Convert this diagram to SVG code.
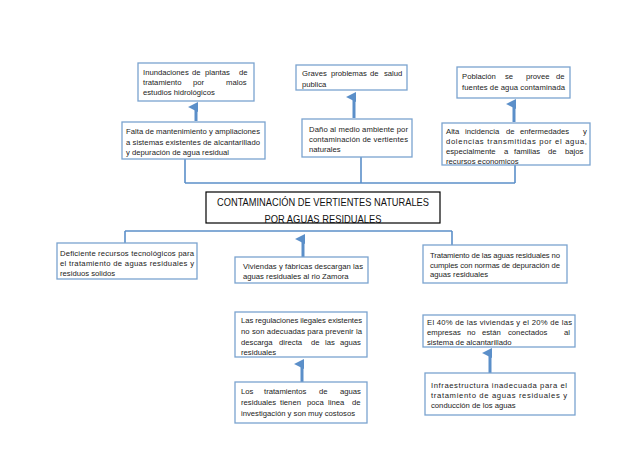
<svg xmlns="http://www.w3.org/2000/svg" width="638" height="452" viewBox="0 0 638 452">
<defs>
<style>
.box{fill:#fff;stroke:#7aa3cf;stroke-width:1.3}
.main{fill:#fff;stroke:#000;stroke-width:1.2}
.t{font-family:"Liberation Sans",Arial,sans-serif;font-size:7.7px;fill:#222}
.m{font-family:"Liberation Sans",Arial,sans-serif;font-size:10.8px;fill:#111}
.ln{stroke:#5b8fc9;stroke-width:1.6;fill:none}
.ar{stroke:#5b8fc9;stroke-width:3;fill:none}
</style>
<marker id="ah" viewBox="0 0 10 10" refX="5" refY="8" markerWidth="3.3" markerHeight="3.3" orient="auto-start-reverse" markerUnits="strokeWidth">
<path d="M0,10 L5,0 L10,10 Z" fill="#5b8fc9"/>
</marker>
</defs>
<rect width="638" height="452" fill="#fff"/>

<g id="connectors">
<line class="ln" x1="185" y1="183" x2="515" y2="183"/>
<line class="ln" x1="185" y1="159" x2="185" y2="183"/>
<line class="ln" x1="361" y1="157" x2="361" y2="183"/>
<line class="ln" x1="515" y1="165" x2="515" y2="183"/>
<line class="ln" x1="125" y1="231" x2="452" y2="231"/>
<line class="ln" x1="125" y1="231" x2="125" y2="243"/>
<line class="ln" x1="452" y1="231" x2="452" y2="245"/>
<line class="ar" x1="196" y1="121" x2="196" y2="107" marker-end="url(#ah)"/>
<line class="ar" x1="354" y1="118" x2="354" y2="97" marker-end="url(#ah)"/>
<line class="ar" x1="514" y1="122" x2="514" y2="104" marker-end="url(#ah)"/>
<line class="ar" x1="303" y1="257" x2="303" y2="239" marker-end="url(#ah)"/>
<line class="ar" x1="302" y1="382" x2="302" y2="364" marker-end="url(#ah)"/>
<line class="ar" x1="490" y1="373" x2="490" y2="353" marker-end="url(#ah)"/>
</g>

<g id="n1">
<rect class="box" x="138" y="63" width="116" height="38"/>
<text class="t" y="75"><tspan x="143">Inundaciones</tspan><tspan x="192">de</tspan><tspan x="205">plantas</tspan><tspan x="239">de</tspan></text>
<text class="t" y="85"><tspan x="143">tratamiento</tspan><tspan x="193">por</tspan><tspan x="226">malos</tspan></text>
<text class="t" x="143" y="95">estudios hidrológicos</text>
</g>
<g id="n2">
<rect class="box" x="296" y="65" width="111" height="25"/>
<text class="t" y="76"><tspan x="302">Graves</tspan><tspan x="331">problemas</tspan><tspan x="370">de</tspan><tspan x="384">salud</tspan></text>
<text class="t" x="302" y="87">publica</text>
</g>
<g id="n3">
<rect class="box" x="457" y="67" width="113" height="31"/>
<text class="t" y="79"><tspan x="462">Población</tspan><tspan x="505">se</tspan><tspan x="526">provee</tspan><tspan x="556">de</tspan></text>
<text class="t" x="462" y="90" textLength="103" lengthAdjust="spacing">fuentes de agua contaminada</text>
</g>
<g id="n4">
<rect class="box" x="122" y="122" width="143" height="37"/>
<text class="t" x="126" y="134" textLength="134" lengthAdjust="spacing">Falta de mantenimiento y ampliaciones</text>
<text class="t" x="126" y="145" textLength="134" lengthAdjust="spacing">a sistemas existentes de alcantarillado</text>
<text class="t" x="126" y="155">y depuración de agua residual</text>
</g>
<g id="n5">
<rect class="box" x="302" y="119" width="110" height="38"/>
<text class="t" x="309" y="132" textLength="99" lengthAdjust="spacing">Daño al medio ambiente por</text>
<text class="t" x="309" y="142" textLength="99" lengthAdjust="spacing">contaminación de vertientes</text>
<text class="t" x="309" y="152">naturales</text>
</g>
<g id="n6">
<rect class="box" x="442" y="123" width="148" height="42"/>
<text class="t" y="134"><tspan x="446">Alta</tspan><tspan x="465">incidencia</tspan><tspan x="506">de</tspan><tspan x="520">enfermedades</tspan><tspan x="583">y</tspan></text>
<text class="t" x="446" y="144" textLength="141" lengthAdjust="spacing">dolencias transmitidas por el agua,</text>
<text class="t" y="154"><tspan x="446">especialmente</tspan><tspan x="504">a</tspan><tspan x="514">familias</tspan><tspan x="548">de</tspan><tspan x="565">bajos</tspan></text>
<text class="t" x="446" y="164">recursos economicos</text>
</g>
<g id="center">
<rect class="main" x="206" y="192" width="234" height="31"/>
<text class="m" x="323" y="206" text-anchor="middle" textLength="212" lengthAdjust="spacingAndGlyphs">CONTAMINACIÓN DE VERTIENTES NATURALES</text>
<text class="m" x="323" y="223" text-anchor="middle" textLength="117" lengthAdjust="spacingAndGlyphs">POR AGUAS RESIDUALES</text>
</g>
<g id="n8">
<rect class="box" x="57" y="243" width="140" height="36"/>
<text class="t" x="60" y="256" textLength="134" lengthAdjust="spacing">Deficiente recursos tecnológicos para</text>
<text class="t" x="60" y="266" textLength="134" lengthAdjust="spacing">el tratamiento de aguas residuales y</text>
<text class="t" x="60" y="276">residuos solidos</text>
</g>
<g id="n9">
<rect class="box" x="235" y="257" width="133" height="26"/>
<text class="t" x="243" y="269" textLength="120" lengthAdjust="spacing">Viviendas y fábricas descargan las</text>
<text class="t" x="243" y="279">aguas residuales al rio Zamora</text>
</g>
<g id="n10">
<rect class="box" x="423" y="245" width="144" height="38"/>
<text class="t" x="430" y="258" textLength="130" lengthAdjust="spacing">Tratamiento de las aguas residuales no</text>
<text class="t" x="430" y="268" textLength="130" lengthAdjust="spacing">cumples con normas de depuración de</text>
<text class="t" x="430" y="277">aguas residuales</text>
</g>
<g id="n11">
<rect class="box" x="235" y="312" width="132" height="45"/>
<text class="t" x="241" y="323" textLength="121" lengthAdjust="spacing">Las regulaciones ilegales existentes</text>
<text class="t" x="241" y="334" textLength="121" lengthAdjust="spacing">no son adecuadas para prevenir la</text>
<text class="t" y="345"><tspan x="241">descarga</tspan><tspan x="279">directa</tspan><tspan x="311">de</tspan><tspan x="325">las</tspan><tspan x="340">aguas</tspan></text>
<text class="t" x="241" y="355">residuales</text>
</g>
<g id="n12">
<rect class="box" x="235" y="382" width="132" height="41"/>
<text class="t" y="394"><tspan x="241">Los</tspan><tspan x="264">tratamientos</tspan><tspan x="319">de</tspan><tspan x="340">aguas</tspan></text>
<text class="t" y="405"><tspan x="241">residuales</tspan><tspan x="280">tienen</tspan><tspan x="307">poca</tspan><tspan x="328">linea</tspan><tspan x="352">de</tspan></text>
<text class="t" x="241" y="416">investigación y son muy costosos</text>
</g>
<g id="n13">
<rect class="box" x="423" y="315" width="152" height="32"/>
<text class="t" x="427" y="325" textLength="145" lengthAdjust="spacing">El 40% de las viviendas y el 20% de las</text>
<text class="t" y="335"><tspan x="427">empresas</tspan><tspan x="467">no</tspan><tspan x="482">están</tspan><tspan x="508">conectados</tspan><tspan x="564">al</tspan></text>
<text class="t" x="427" y="345">sistema de alcantarillado</text>
</g>
<g id="n14">
<rect class="box" x="425" y="373" width="150" height="42"/>
<text class="t" x="431" y="388" textLength="136" lengthAdjust="spacing">Infraestructura inadecuada para el</text>
<text class="t" x="431" y="398" textLength="136" lengthAdjust="spacing">tratamiento de aguas residuales y</text>
<text class="t" x="431" y="408">conducción de los aguas</text>
</g>
</svg>
